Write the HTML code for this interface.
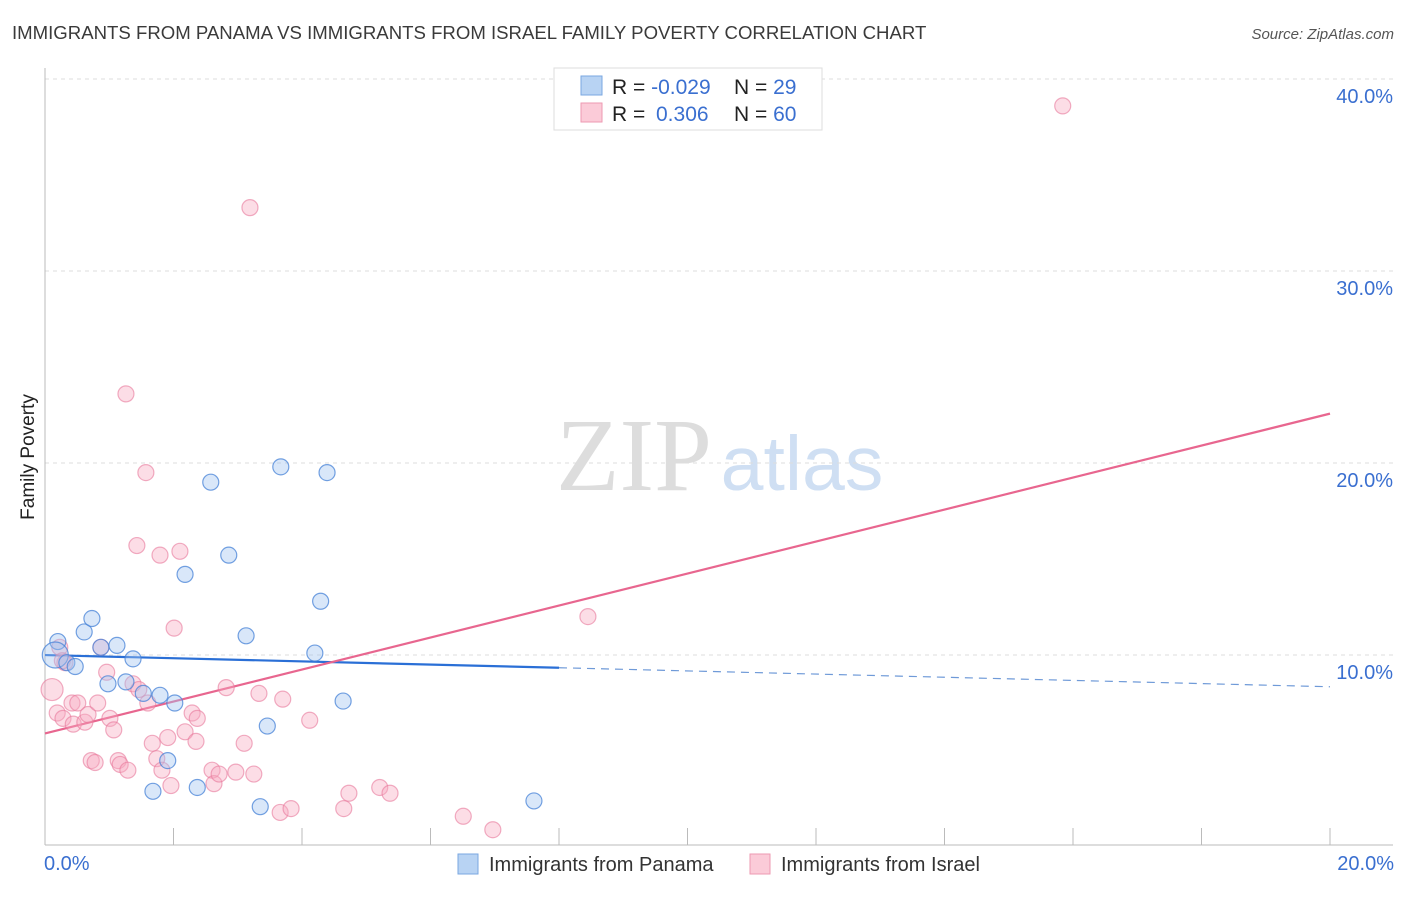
<!DOCTYPE html>
<html><head><meta charset="utf-8"><style>
body{margin:0;background:#fff;font-family:"Liberation Sans",sans-serif;}
svg text{font-family:"Liberation Sans",sans-serif;}
</style></head><body>
<svg width="1406" height="892" xmlns="http://www.w3.org/2000/svg" id="chart">
<text x="12" y="39" font-size="18.6" fill="#3a3a3a">IMMIGRANTS FROM PANAMA VS IMMIGRANTS FROM ISRAEL FAMILY POVERTY CORRELATION CHART</text>
<text x="1394" y="39" font-size="15" fill="#555" font-style="italic" text-anchor="end">Source: ZipAtlas.com</text>
<g>
<text x="634" y="490" font-size="104" fill="#ddd" text-anchor="middle" font-family="Liberation Serif" style="font-family:'Liberation Serif',serif">ZIP</text>
<text x="802" y="490" font-size="77" fill="#cfdff3" text-anchor="middle">atlas</text>
</g>
<g id="grid"></g>
<line x1="45" y1="68" x2="45" y2="845" stroke="#bbb"/>
<line x1="45" y1="845" x2="1393" y2="845" stroke="#bbb"/>
<g id="xticks"></g>
<text x="44" y="870" font-size="20" fill="#3a6fd0">0.0%</text>
<text x="1394" y="870" font-size="20" fill="#3a6fd0" text-anchor="end">20.0%</text>
<text transform="translate(34,457) rotate(-90)" font-size="19" fill="#222" text-anchor="middle">Family Poverty</text>
<g id="lines"></g>
<g id="pts"></g>
<g>
<rect x="554" y="68" width="268" height="62" fill="#fff" stroke="#ddd"/>
<rect x="581" y="76" width="21" height="19" fill="#b8d3f3" stroke="#7aa7e0"/>
<rect x="581" y="103" width="21" height="19" fill="#fbcbd8" stroke="#ee9ab2"/>
<text x="612" y="94" font-size="21" fill="#222">R = <tspan fill="#3a6fd0">-0.029</tspan><tspan x="734">N = </tspan><tspan fill="#3a6fd0">29</tspan></text>
<text x="612" y="121" font-size="21" fill="#222">R = <tspan x="656" fill="#3a6fd0">0.306</tspan><tspan x="734">N = </tspan><tspan fill="#3a6fd0">60</tspan></text>
</g>
<g>
<rect x="458" y="854" width="20" height="20" fill="#b8d3f3" stroke="#7aa7e0"/>
<text x="489" y="871" font-size="20" fill="#333">Immigrants from Panama</text>
<rect x="750" y="854" width="20" height="20" fill="#fbcbd8" stroke="#ee9ab2"/>
<text x="781" y="871" font-size="20" fill="#333">Immigrants from Israel</text>
</g>
</svg>
<script>
const yTicks=[10,20,30,40];
const xTickCount=10;
const panamaX=[0.2,0.16,0.34,0.47,0.61,0.73,0.87,0.98,1.12,1.26,1.37,1.53,1.79,1.91,2.02,1.68,2.18,2.37,2.58,2.86,3.13,3.35,3.46,3.67,4.2,4.29,4.39,4.64,7.61];
const panamaY=[10.7,10.0,9.6,9.4,11.2,11.9,10.4,8.5,10.5,8.6,9.8,8.0,7.9,4.5,7.5,2.9,14.2,3.1,19.0,15.2,11.0,2.1,6.3,19.8,10.1,12.8,19.5,7.6,2.4];
const israelX=[15.84,3.19,1.26,1.57,1.43,1.79,2.1,2.01,8.45,0.11,0.23,0.31,0.87,0.96,0.19,0.28,0.42,0.44,0.51,0.62,0.67,0.82,1.01,1.07,0.72,0.78,1.14,1.17,1.29,1.37,1.46,1.6,1.67,1.74,1.82,1.91,1.96,2.18,2.29,2.37,2.35,2.6,2.63,2.71,2.82,2.97,3.1,3.25,3.33,3.7,3.66,3.83,4.12,4.65,4.73,5.21,5.37,6.51,6.97,0.27];
const israelY=[38.6,33.3,23.6,19.5,15.7,15.2,15.4,11.4,12.0,8.2,10.4,9.6,10.4,9.1,6.98,6.7,7.5,6.4,7.5,6.5,6.9,7.5,6.7,6.1,4.5,4.4,4.5,4.3,4.0,8.5,8.2,7.5,5.4,4.6,4.0,5.7,3.2,6.0,6.98,6.7,5.5,4.0,3.3,3.8,8.3,3.9,5.4,3.8,8.0,7.7,1.8,2.0,6.6,2.0,2.8,3.1,2.8,1.6,0.9,9.7];
const X=v=>45+v*64.25, Y=v=>847-v*19.2;
const NS="http://www.w3.org/2000/svg";
function mk(tag,attrs,parent){const e=document.createElementNS(NS,tag);for(const k in attrs)e.setAttribute(k,attrs[k]);parent.appendChild(e);return e;}
const grid=document.getElementById('grid');
yTicks.forEach(t=>{
 const l=mk('line',{x1:45,x2:1393,y1:Y(t),y2:Y(t),stroke:'#ddd','stroke-dasharray':'4,4'},grid);
 
 
 const tx=mk('text',{x:1393,y:Y(t)+24,'font-size':20,fill:'#3a6fd0','text-anchor':'end'},grid);
 tx.textContent=t.toFixed(1)+'%';
 
 
});
const xt=document.getElementById('xticks');
for(let i=1;i<=xTickCount;i++){
 const l=mk('line',{x1:X(i*2),x2:X(i*2),y1:828,y2:845,stroke:'#bbb'},xt);
 
 
}
const pts=document.getElementById('pts');
israelX.forEach((x,i)=>{
 const c=mk('circle',{cx:X(x),cy:Y(israelY[i]),r:i==9?11:8,fill:'rgba(248,170,192,0.4)',stroke:'rgba(232,120,155,0.6)','stroke-width':1.2},pts);
 
 
});
panamaX.forEach((x,i)=>{
 const c=mk('circle',{cx:X(x),cy:Y(panamaY[i]),r:i==1?13:8,fill:'rgba(160,196,240,0.4)',stroke:'rgba(70,130,215,0.75)','stroke-width':1.2},pts);
 
 
});
const lines=document.getElementById('lines');
function fit(xs,ys){const n=xs.length;let mx=0,my=0;xs.forEach((x,i)=>{mx+=x;my+=ys[i];});mx/=n;my/=n;let sxy=0,sxx=0;xs.forEach((x,i)=>{sxy+=(x-mx)*(ys[i]-my);sxx+=(x-mx)**2;});const b=sxy/sxx;return [my-b*mx,b];}
const [pa,pb]=fit(panamaX,panamaY);
const [ia,ib]=fit(israelX,israelY);
let l=mk('line',{x1:X(0),y1:Y(pa),x2:X(8),y2:Y(pa+pb*8),stroke:'#2a6fd6','stroke-width':2.2},lines);


l=mk('line',{x1:X(8),y1:Y(pa+pb*8),x2:X(20),y2:Y(pa+pb*20),stroke:'#6f9ad8','stroke-width':1.2,'stroke-dasharray':'8,6'},lines);


l=mk('line',{x1:X(0),y1:Y(ia),x2:X(20),y2:Y(ia+ib*20),stroke:'#e8668f','stroke-width':2.2},lines);


</script>
</body></html>
